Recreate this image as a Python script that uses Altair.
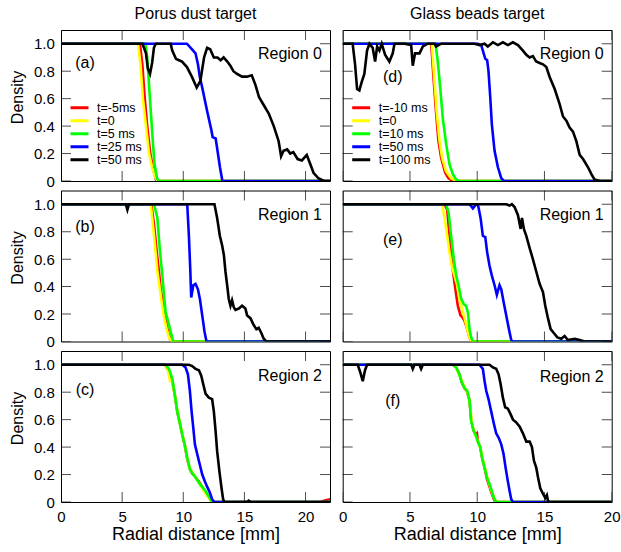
import altair as alt
import pandas as pd

FONT = "Liberation Sans"

# Series styling and legend labels (drawing order: red, yellow, green, blue, black)
LINE_COLORS = ["#ff0000", "#ffff00", "#00ff00", "#0000ff", "#000000"]
DUST_TIMES = ["t=-5ms", "t=0", "t=5 ms", "t=25 ms", "t=50 ms"]
GLASS_TIMES = ["t=-10 ms", "t=0", "t=10 ms", "t=50 ms", "t=100 ms"]

COLUMN_TITLES = ["Porus dust target", "Glass beads target"]
REGIONS = ["Region 0", "Region 1", "Region 2"]
TAGS = ["(a)", "(b)", "(c)", "(d)", "(e)", "(f)"]

X_TICKS = [0, 5, 10, 15, 20]
Y_TICKS = [0, 0.2, 0.4, 0.6, 0.8, 1.0]
DUST_XMAX = 22
GLASS_XMAX = 20
Y_MAX = 1.1

# ---- Porus dust target: (radial distance mm, density) ----
A_RED = [(0, 1), (6.45, 1), (6.65, 0.85), (6.85, 0.6), (7.05, 0.4), (7.3, 0.2), (7.55, 0.08), (7.8, 0), (22, 0)]
A_YEL = [(0, 1), (6.3, 1), (6.5, 0.85), (6.7, 0.6), (6.95, 0.4), (7.2, 0.2), (7.45, 0.1), (7.7, 0.03), (7.9, 0), (22, 0)]
A_GRN = [(0, 1), (6.9, 1), (7.05, 0.9), (7.2, 0.7), (7.35, 0.5), (7.5, 0.3), (7.65, 0.12), (7.85, 0.02), (8.0, 0), (22, 0)]
A_BLU = [(0, 1), (10.3, 1), (10.7, 0.96), (11.0, 0.93), (11.2, 0.85), (11.35, 0.76), (11.55, 0.68), (11.95, 0.51),
         (12.3, 0.37), (12.4, 0.32), (12.65, 0.31), (12.8, 0.22), (13.0, 0.1), (13.2, 0), (22, 0)]
A_BLK = [(0, 1), (6.66, 1), (6.95, 0.93), (7.1, 0.82), (7.28, 0.78), (7.45, 0.86), (7.6, 0.97), (7.75, 1.0),
         (8.97, 1.0), (9.1, 0.95), (9.4, 0.89), (9.65, 0.88), (9.9, 0.87), (10.3, 0.83), (10.7, 0.76), (11.1, 0.68),
         (11.4, 0.73), (11.7, 0.9), (11.95, 0.97), (12.2, 0.96), (12.5, 0.9), (12.8, 0.9), (13.05, 0.88), (13.3, 0.9),
         (13.6, 0.87), (13.85, 0.84), (14.1, 0.8), (14.4, 0.78), (14.8, 0.76), (15.2, 0.76), (15.6, 0.77), (15.9, 0.7),
         (16.2, 0.61), (16.6, 0.55), (17.0, 0.49), (17.4, 0.4), (17.8, 0.29), (18.0, 0.18), (18.2, 0.22), (18.5, 0.23),
         (18.75, 0.2), (19.0, 0.21), (19.35, 0.16), (19.7, 0.15), (20.1, 0.19), (20.4, 0.12), (20.65, 0.06),
         (21.05, 0.02), (21.5, 0), (22, 0)]

B_RED = [(0, 1), (7.39, 1), (7.61, 0.85), (7.83, 0.65), (8.02, 0.5), (8.15, 0.38), (8.37, 0.26), (8.56, 0.16),
         (8.75, 0.07), (8.97, 0), (22, 0)]
B_YEL = [(0, 1), (7.34, 1), (7.55, 0.82), (7.74, 0.65), (7.88, 0.51), (8.04, 0.41), (8.23, 0.29), (8.42, 0.18),
         (8.64, 0.09), (8.83, 0.03), (9.02, 0), (22, 0)]
B_GRN = [(0, 1), (7.61, 1), (7.88, 0.9), (8.1, 0.65), (8.29, 0.48), (8.42, 0.34), (8.56, 0.21), (8.75, 0.15),
         (8.97, 0.07), (9.18, 0), (22, 0)]
B_BLU = [(0, 1), (10.27, 1), (10.33, 0.99), (10.46, 0.77), (10.57, 0.53), (10.65, 0.32), (10.82, 0.41), (11.0, 0.42),
         (11.2, 0.38), (11.36, 0.31), (11.55, 0.19), (11.74, 0.07), (11.9, 0), (22, 0)]
B_BLK = [(0, 1), (5.3, 1), (5.43, 0.96), (5.56, 1), (12.55, 1), (12.77, 0.9), (12.99, 0.77), (13.18, 0.7),
         (13.32, 0.63), (13.45, 0.51), (13.59, 0.41), (13.72, 0.31), (13.86, 0.26), (13.99, 0.3), (14.13, 0.25),
         (14.27, 0.23), (14.54, 0.24), (14.81, 0.26), (15.08, 0.24), (15.22, 0.19), (15.49, 0.17), (15.76, 0.12),
         (15.98, 0.09), (16.17, 0.1), (16.39, 0.06), (16.58, 0.02), (16.79, 0), (22, 0)]

C_RED = [(0, 1), (8.5, 1), (8.75, 0.96), (9.05, 0.9), (9.29, 0.79), (9.51, 0.66), (9.73, 0.57), (9.92, 0.49),
         (10.11, 0.42), (10.33, 0.31), (10.54, 0.24), (10.73, 0.21), (11.0, 0.18), (11.28, 0.15), (11.55, 0.11),
         (11.82, 0.07), (12.09, 0.04), (12.3, 0), (21.2, 0), (21.5, 0.01), (22, 0.02)]
C_YEL = [(0, 1), (8.5, 1), (8.75, 0.96), (8.91, 0.88), (9.1, 0.88), (9.29, 0.79), (9.51, 0.67), (9.73, 0.57),
         (9.92, 0.5), (10.11, 0.42), (10.33, 0.32), (10.54, 0.24), (10.73, 0.22), (11.0, 0.18), (11.28, 0.14),
         (11.55, 0.1), (11.82, 0.06), (12.09, 0.03), (12.3, 0), (22, 0)]
C_GRN = [(0, 1), (8.56, 1), (8.83, 0.97), (9.1, 0.9), (9.29, 0.79), (9.51, 0.66), (9.73, 0.57), (9.92, 0.49),
         (10.11, 0.42), (10.33, 0.32), (10.54, 0.24), (10.73, 0.21), (11.0, 0.18), (11.28, 0.14), (11.55, 0.11),
         (11.82, 0.08), (12.09, 0.04), (12.36, 0), (22, 0)]
C_BLU = [(0, 1), (9.92, 1), (10.19, 0.98), (10.38, 0.93), (10.54, 0.81), (10.68, 0.66), (10.82, 0.54), (10.95, 0.42),
         (11.14, 0.35), (11.36, 0.27), (11.55, 0.2), (11.77, 0.15), (11.96, 0.11), (12.17, 0.07), (12.36, 0.02),
         (12.55, 0), (22, 0)]
C_BLK = [(0, 1), (10.46, 1), (10.73, 0.99), (11.0, 0.97), (11.28, 0.96), (11.47, 0.92), (11.63, 0.86), (11.82, 0.79),
         (12.09, 0.76), (12.36, 0.75), (12.5, 0.66), (12.64, 0.52), (12.77, 0.37), (12.96, 0.22), (13.13, 0.1),
         (13.26, 0.02), (13.37, 0), (15.2, 0), (15.35, 0.01), (15.5, 0), (22, 0)]

# ---- Glass beads target ----
D_RED = [(0, 1), (6.58, 1), (6.77, 0.73), (6.95, 0.49), (7.12, 0.29), (7.32, 0.17), (7.62, 0.06), (7.87, 0.02),
         (8.19, 0), (20, 0)]
D_YEL = [(0, 1), (6.63, 1), (6.82, 0.73), (7.0, 0.49), (7.2, 0.29), (7.39, 0.17), (7.69, 0.07), (8.06, 0.02),
         (8.44, 0), (20, 0)]
D_GRN = [(0, 1), (6.9, 1), (7.07, 0.87), (7.25, 0.68), (7.44, 0.46), (7.69, 0.27), (7.94, 0.12), (8.19, 0.05),
         (8.44, 0.01), (8.68, 0), (20, 0)]
D_BLU = [(0, 1), (10.05, 1), (10.3, 0.99), (10.42, 0.95), (10.6, 0.89), (10.74, 0.88), (10.84, 0.8), (10.97, 0.61),
         (11.09, 0.41), (11.29, 0.22), (11.54, 0.1), (11.79, 0.02), (11.99, 0), (20, 0)]
D_BLK = [(0, 1), (0.74, 1), (0.92, 0.85), (1.07, 0.67), (1.24, 0.66), (1.41, 0.72), (1.61, 0.78), (1.81, 0.95),
         (1.99, 1.0), (2.23, 0.97), (2.41, 0.87), (2.56, 0.98), (2.73, 0.95), (2.9, 1.0), (3.15, 0.92), (3.47, 0.87),
         (3.72, 0.93), (3.85, 1.0), (4.59, 1.0), (5.09, 0.99), (5.21, 0.84), (5.38, 0.93), (5.71, 0.93), (5.96, 0.98),
         (6.33, 1.0), (6.82, 1.0), (6.95, 0.98), (7.32, 1.0), (9.8, 1.0), (10.17, 0.99), (10.55, 1.0), (10.79, 0.98),
         (11.17, 1.01), (11.54, 0.99), (11.91, 1.01), (12.28, 0.99), (12.65, 1.01), (13.03, 0.99), (13.4, 0.95),
         (13.65, 0.92), (13.9, 0.9), (14.14, 0.91), (14.39, 0.87), (14.64, 0.86), (14.89, 0.85), (15.14, 0.83),
         (15.38, 0.76), (15.76, 0.67), (16.13, 0.56), (16.38, 0.47), (16.63, 0.44), (16.87, 0.39), (17.12, 0.36),
         (17.37, 0.29), (17.62, 0.19), (17.87, 0.16), (18.24, 0.1), (18.49, 0.05), (18.73, 0.01), (19.11, 0), (20, 0)]

E_RED = [(0, 1), (7.57, 1), (7.77, 0.96), (7.94, 0.77), (8.11, 0.58), (8.31, 0.43), (8.44, 0.34), (8.56, 0.26),
         (8.76, 0.19), (8.88, 0.18), (9.06, 0.15), (9.26, 0.09), (9.43, 0.03), (9.6, 0), (20, 0)]
E_YEL = [(0, 1), (7.39, 1), (7.57, 0.9), (7.77, 0.77), (7.94, 0.65), (8.11, 0.55), (8.31, 0.48), (8.51, 0.41),
         (8.68, 0.31), (8.86, 0.24), (9.06, 0.17), (9.26, 0.09), (9.43, 0.03), (9.6, 0), (20, 0)]
E_GRN = [(0, 1), (7.69, 1), (7.87, 0.94), (8.06, 0.77), (8.26, 0.6), (8.44, 0.48), (8.61, 0.41), (8.81, 0.31),
         (9.01, 0.27), (9.18, 0.26), (9.31, 0.21), (9.43, 0.09), (9.55, 0.03), (9.68, 0), (20, 0)]
E_BLU = [(0, 1), (9.43, 1), (9.68, 0.97), (9.93, 1), (10.05, 1), (10.25, 0.9), (10.42, 0.77), (10.6, 0.76),
         (10.74, 0.65), (10.92, 0.55), (11.09, 0.48), (11.29, 0.41), (11.46, 0.34), (11.66, 0.41), (11.79, 0.38),
         (11.96, 0.29), (12.16, 0.19), (12.36, 0.09), (12.53, 0.01), (12.65, 0), (20, 0)]
E_BLK = [(0, 1), (12.16, 1), (12.41, 0.99), (12.58, 1.0), (12.78, 0.98), (13.03, 0.92), (13.23, 0.82), (13.33, 0.9),
         (13.47, 0.82), (13.65, 0.77), (13.9, 0.68), (14.14, 0.6), (14.39, 0.51), (14.64, 0.42), (14.89, 0.36),
         (15.06, 0.26), (15.26, 0.17), (15.46, 0.09), (15.71, 0.06), (15.96, 0.03), (16.25, 0.02), (16.5, 0.04),
         (16.75, 0.01), (17.25, 0.02), (17.62, 0.01), (17.99, 0), (20, 0)]

F_RED = [(0, 1), (8.19, 1), (8.44, 0.98), (8.68, 0.93), (8.86, 0.87), (9.06, 0.83), (9.26, 0.8), (9.43, 0.74),
         (9.55, 0.6), (9.73, 0.52), (9.88, 0.49), (9.98, 0.5), (10.05, 0.44), (10.22, 0.4), (10.37, 0.32),
         (10.55, 0.25), (10.72, 0.17), (10.92, 0.11), (11.09, 0.06), (11.24, 0.02), (11.35, 0), (20, 0)]
F_YEL = [(0, 1), (8.3, 1), (8.5, 0.96), (8.75, 0.91), (8.95, 0.86), (9.15, 0.82), (9.35, 0.78), (9.48, 0.7),
         (9.6, 0.58), (9.78, 0.51), (9.93, 0.47), (10.1, 0.43), (10.27, 0.38), (10.42, 0.31), (10.6, 0.24),
         (10.78, 0.17), (10.97, 0.11), (11.14, 0.06), (11.3, 0.02), (11.45, 0), (20, 0)]
F_GRN = [(0, 1), (8.19, 1), (8.44, 0.98), (8.68, 0.93), (8.86, 0.87), (9.06, 0.83), (9.26, 0.81), (9.43, 0.74),
         (9.55, 0.59), (9.73, 0.52), (9.88, 0.49), (10.05, 0.44), (10.22, 0.4), (10.37, 0.32), (10.55, 0.25),
         (10.72, 0.18), (10.92, 0.13), (11.09, 0.08), (11.24, 0.03), (11.41, 0), (20, 0)]
F_BLU = [(0, 1), (5.1, 1), (5.21, 0.98), (5.3, 1), (5.75, 1), (5.83, 0.98), (5.9, 1), (10.17, 1), (10.42, 0.97),
         (10.55, 0.88), (10.67, 0.81), (10.84, 0.75), (11.04, 0.66), (11.24, 0.57), (11.41, 0.5), (11.59, 0.47),
         (11.79, 0.42), (11.96, 0.35), (12.11, 0.25), (12.28, 0.15), (12.41, 0.08), (12.53, 0.02), (12.65, 0), (20, 0)]
F_BLK = [(0, 1), (1.12, 1), (1.32, 0.94), (1.49, 0.88), (1.66, 0.96), (1.81, 1), (5.1, 1), (5.21, 0.97), (5.33, 1),
         (5.71, 1), (5.83, 0.97), (5.96, 1), (10.92, 1), (11.17, 0.98), (11.41, 0.97), (11.59, 0.93), (11.74, 0.86),
         (11.91, 0.76), (12.08, 0.69), (12.28, 0.68), (12.48, 0.64), (12.66, 0.6), (12.9, 0.58), (13.15, 0.55),
         (13.4, 0.5), (13.65, 0.44), (13.9, 0.44), (14.07, 0.4), (14.22, 0.3), (14.39, 0.25), (14.52, 0.18),
         (14.69, 0.1), (14.89, 0.06), (15.06, 0.03), (15.18, 0.05), (15.26, 0.01), (15.38, 0), (20, 0)]

W, H = 269, 151


def profile_frame(curves, labels):
    rows = []
    for lab, pts in zip(labels, curves):
        for r, d in pts:
            rows.append({"r": r, "density": d, "series": lab})
    return pd.DataFrame(rows)


def panel(curves, labels, xmax, tag, tag_xy, region, region_y, show_x, show_y, show_legend, title=None):
    xscale = alt.Scale(domain=[0, xmax], nice=False, zero=False)
    yscale = alt.Scale(domain=[0, Y_MAX], nice=False, zero=False)
    xaxis = alt.Axis(values=X_TICKS, format="d", title="Radial distance [mm]", titleFontSize=18,
                     titleFontWeight="normal", titlePadding=1.5, labelFontSize=15, labelPadding=7,
                     labelFlush=False, ticks=False, tickSize=0, domain=False, grid=False,
                     labelColor="black", titleColor="black") if show_x else None
    yaxis = alt.Axis(values=Y_TICKS, title="Density", titleFontSize=16, titleFontWeight="normal",
                     titlePadding=8, titleY=67, labelFontSize=15, labelPadding=6.7,
                     labelExpr="datum.value == 0 ? '0' : format(datum.value, '.1f')",
                     ticks=False, tickSize=0, domain=False, grid=False,
                     labelColor="black", titleColor="black") if show_y else None
    xenc = alt.X("r:Q", scale=xscale, axis=xaxis)
    yenc = alt.Y("density:Q", scale=yscale, axis=yaxis)

    # compact in-plot legend: entries clipped to a short row height
    legend = alt.Legend(orient="none", legendX=8, legendY=71.5, title=None, symbolType="stroke",
                        symbolSize=324, symbolStrokeWidth=3, labelFontSize=12.5, labelFont=FONT,
                        labelColor="black", labelOffset=7, rowPadding=0, clipHeight=12.7,
                        padding=0) if show_legend else None

    lines = alt.Chart(profile_frame(curves, labels)).mark_line(strokeWidth=2.6, clip=True).encode(
        x=xenc, y=yenc,
        color=alt.Color("series:N", scale=alt.Scale(domain=labels, range=LINE_COLORS), legend=legend),
    )

    xt = pd.DataFrame({"r": X_TICKS})
    yt = pd.DataFrame({"density": Y_TICKS})
    tick_style = dict(size=20, thickness=1, color="black", clip=True)
    ticks_top = alt.Chart(xt).mark_tick(orient="vertical", **tick_style).encode(x=xenc, y=alt.value(0))
    ticks_bot = alt.Chart(xt).mark_tick(orient="vertical", **tick_style).encode(x=xenc, y=alt.value(H))
    ticks_lft = alt.Chart(yt).mark_tick(orient="horizontal", **tick_style).encode(y=yenc, x=alt.value(0))
    ticks_rgt = alt.Chart(yt).mark_tick(orient="horizontal", **tick_style).encode(y=yenc, x=alt.value(W))

    region_text = alt.Chart(pd.DataFrame({"label": [region]})).mark_text(
        align="right", baseline="middle", fontSize=16, font=FONT, color="black"
    ).encode(text="label:N", x=alt.value(W - 8), y=alt.value(region_y))
    tag_text = alt.Chart(pd.DataFrame({"label": [tag]})).mark_text(
        align="center", baseline="middle", fontSize=16, font=FONT, color="black"
    ).encode(text="label:N", x=alt.value(tag_xy[0]), y=alt.value(tag_xy[1]))

    layer = alt.layer(lines, ticks_top, ticks_bot, ticks_lft, ticks_rgt, region_text, tag_text)
    props = dict(width=W, height=H)
    if title:
        props["title"] = alt.TitleParams(text=title, fontSize=16, fontWeight="normal", font=FONT,
                                         anchor="middle", offset=8, color="black")
    return layer.properties(**props)


pa = panel([A_RED, A_YEL, A_GRN, A_BLU, A_BLK], DUST_TIMES, DUST_XMAX, TAGS[0], (24, 33), REGIONS[0], 24,
           False, True, True, COLUMN_TITLES[0])
pb = panel([B_RED, B_YEL, B_GRN, B_BLU, B_BLK], DUST_TIMES, DUST_XMAX, TAGS[1], (24, 36), REGIONS[1], 24,
           False, True, False)
pc = panel([C_RED, C_YEL, C_GRN, C_BLU, C_BLK], DUST_TIMES, DUST_XMAX, TAGS[2], (24, 39), REGIONS[2], 25,
           True, True, False)
pd_ = panel([D_RED, D_YEL, D_GRN, D_BLU, D_BLK], GLASS_TIMES, GLASS_XMAX, TAGS[3], (50, 47), REGIONS[0], 24,
            False, False, True, COLUMN_TITLES[1])
pe = panel([E_RED, E_YEL, E_GRN, E_BLU, E_BLK], GLASS_TIMES, GLASS_XMAX, TAGS[4], (50, 49), REGIONS[1], 24,
           False, False, False)
pf = panel([F_RED, F_YEL, F_GRN, F_BLU, F_BLK], GLASS_TIMES, GLASS_XMAX, TAGS[5], (50, 50), REGIONS[2], 26,
           True, False, False)

chart = alt.concat(
    pa, pd_, pb, pe, pc, pf, columns=2, spacing={"row": 9.5, "column": 12.7}, bounds="flush"
).resolve_scale(color="independent").properties(
    padding={"left": 8, "top": 5, "right": 0, "bottom": 4}
).configure(font=FONT).configure_view(stroke="black", strokeWidth=1)

chart.save("out.html", embed_options={"renderer": "svg", "actions": False})
